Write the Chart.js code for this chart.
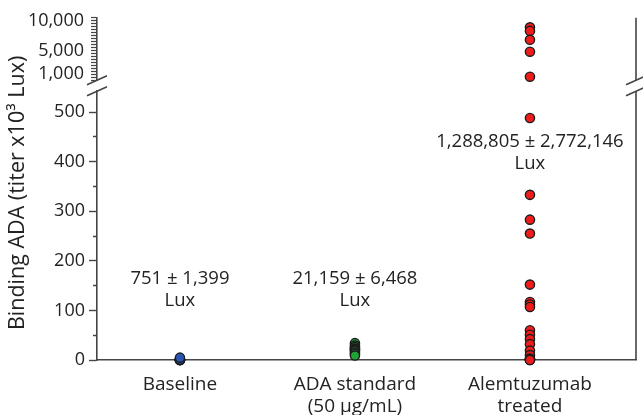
<!DOCTYPE html>
<html>
<head>
<meta charset="utf-8">
<script src="https://cdn.jsdelivr.net/npm/chart.js@4.4.1/dist/chart.umd.min.js"></script>
<style>
  html, body { margin: 0; padding: 0; background: #fff; }
  canvas { display: block; }
</style>
</head>
<body>
<canvas id="chart" width="643" height="415"></canvas>
<script>
// Groups on the x axis (multi-line labels)
const groups = [['Baseline'], ['ADA standard', '(50 µg/mL)'], ['Alemtuzumab', 'treated']];

// Binding ADA, titer x10^3 Lux, one value per sample
const baselineValues = [0.1, 0.1, 0.2, 0.2, 0.3, 0.3, 0.4, 0.5, 0.7, 4.7];
const adaStandardValues = [34, 29, 26, 23, 22, 20, 18, 15, 12, 9];
const alemtuzumabValues = [8900, 8300, 6800, 4800, 600, 488, 333, 283, 255, 152,
                           117, 112, 107, 60, 51, 42, 32, 19, 10, 3, 2, 1, 0, 0];

// Group summaries (mean ± SD)
const statTexts = ['751 ± 1,399', '21,159 ± 6,468', '1,288,805 ± 2,772,146'];
const statUnit = 'Lux';
const statTextAt = [164, 164, 441];

// Broken y axis: lower linear segment and upper segment
const lowerMax = 542;
const lowerTicks = [0, 50, 100, 150, 200, 250, 300, 350, 400, 450, 500];
const upperMax = 10500;
const upperTicks = [0, 500, 1000, 1500, 2000, 2500, 3000, 3500, 4000, 4500, 5000,
                    5500, 6000, 6500, 7000, 7500, 8000, 8500, 9000, 9500, 10000, 10500];
const upperLabelled = [1000, 5000, 10000];

const yTitle = 'Binding ADA (titer x10³ Lux)';

const ink = '#232323';
const axisColor = '#454545';
const fontFamily = '"Open Sans", "Noto Sans", sans-serif';

const toPoints = (vals, xi) => vals.map(v => ({ x: xi, y: v }));

const axisBreak = {
  id: 'axisBreak',
  afterDraw(chart) {
    const { ctx, chartArea: a, scales } = chart;
    const gapTop = scales.yGap.top;
    const gapBottom = scales.yGap.bottom;
    ctx.save();
    ctx.strokeStyle = axisColor;
    ctx.lineWidth = 1.6;
    // right frame, interrupted at the break
    ctx.beginPath();
    ctx.moveTo(a.right, a.top);
    ctx.lineTo(a.right, gapTop);
    ctx.moveTo(a.right, gapBottom);
    ctx.lineTo(a.right, a.bottom);
    ctx.stroke();
    // break slashes on both sides
    [a.left, a.right].forEach(x => {
      [gapTop, gapBottom].forEach(y => {
        ctx.beginPath();
        ctx.moveTo(x - 10, y + 4.5);
        ctx.lineTo(x + 10, y - 4.5);
        ctx.stroke();
      });
    });
    // mean ± SD summaries
    ctx.fillStyle = ink;
    ctx.font = '18.5px ' + fontFamily;
    ctx.textAlign = 'center';
    ctx.textBaseline = 'middle';
    statTexts.forEach((t, i) => {
      const x = scales.x.getPixelForValue(i);
      const y = scales.y.getPixelForValue(statTextAt[i]);
      ctx.fillText(t, x, y);
      ctx.fillText(statUnit, x, y + 22);
    });
    // y axis title, centred on the full plot height
    ctx.font = '21.5px ' + fontFamily;
    ctx.translate(18, (a.top + a.bottom) / 2 + 4);
    ctx.rotate(-Math.PI / 2);
    ctx.fillText(yTitle, 0, 0);
    ctx.restore();
  }
};

function draw() {
  Chart.defaults.font.family = fontFamily;
  Chart.defaults.color = ink;

  const pointStyle = {
    pointRadius: 4.6,
    pointBorderWidth: 1.4,
    pointBorderColor: '#1c1c1c',
    showLine: false,
    clip: false
  };

  new Chart(document.getElementById('chart'), {
    type: 'scatter',
    data: {
      datasets: [
        Object.assign({ data: toPoints(baselineValues, 0), yAxisID: 'y', pointBackgroundColor: '#2a55b5' }, pointStyle),
        Object.assign({ data: toPoints(adaStandardValues, 1), yAxisID: 'y', pointBackgroundColor: '#1fa535' }, pointStyle),
        Object.assign({ data: toPoints(alemtuzumabValues.filter(v => v <= lowerMax), 2), yAxisID: 'y', pointBackgroundColor: '#f01c1c' }, pointStyle),
        Object.assign({ data: toPoints(alemtuzumabValues.filter(v => v > lowerMax), 2), yAxisID: 'yTop', pointBackgroundColor: '#f01c1c' }, pointStyle)
      ]
    },
    options: {
      responsive: false,
      animation: false,
      devicePixelRatio: 1,
      layout: { padding: { left: 27, top: 15, right: 7, bottom: 0 } },
      plugins: { legend: { display: false }, tooltip: { enabled: false } },
      scales: {
        x: {
          type: 'linear',
          position: 'bottom',
          min: -0.474,
          max: 2.606,
          grid: { display: false },
          border: { color: axisColor, width: 1.6 },
          afterBuildTicks: s => { s.ticks = groups.map((g, i) => ({ value: i })); },
          ticks: {
            autoSkip: false,
            maxRotation: 0,
            padding: 6,
            font: { size: 19, lineHeight: 1.15 },
            color: ink,
            callback: v => groups[v]
          },
          afterFit: s => { s.height = 55; }
        },
        yTop: {
          type: 'linear',
          position: 'left',
          stack: 'value',
          stackWeight: 63,
          weight: 3,
          min: 0,
          max: upperMax,
          afterBuildTicks: s => { s.ticks = upperTicks.map(v => ({ value: v })); },
          ticks: {
            autoSkip: false,
            padding: 7,
            font: { size: 18 },
            color: ink,
            callback: v => upperLabelled.includes(v) ? v.toLocaleString('en-US') : ''
          },
          grid: { drawOnChartArea: false, tickLength: 6, tickColor: axisColor, tickWidth: 1.2 },
          border: { color: axisColor, width: 1.6 },
          afterFit: s => { s.width = 70; }
        },
        yGap: {
          type: 'linear',
          position: 'left',
          stack: 'value',
          stackWeight: 11,
          weight: 2,
          ticks: { display: false },
          grid: { display: false, drawTicks: false },
          border: { display: false },
          afterFit: s => { s.width = 70; }
        },
        y: {
          type: 'linear',
          position: 'left',
          stack: 'value',
          stackWeight: 271,
          weight: 1,
          min: 0,
          max: lowerMax,
          afterBuildTicks: s => { s.ticks = lowerTicks.map(v => ({ value: v })); },
          ticks: {
            autoSkip: false,
            padding: 4,
            font: { size: 18 },
            color: ink,
            callback: v => (v % 100 === 0) ? String(v) : ''
          },
          grid: {
            drawOnChartArea: false,
            tickLength: 8,
            tickColor: axisColor,
            tickWidth: 1.4,
            tickBorderDash: c => (c.tick && c.tick.value % 100 !== 0) ? [0, 4, 20] : []
          },
          border: { color: axisColor, width: 1.6 },
          afterFit: s => { s.width = 70; }
        }
      }
    },
    plugins: [axisBreak]
  });
}

if (document.fonts && document.fonts.load) {
  Promise.all([
    document.fonts.load('18px "Open Sans"'),
    document.fonts.load('21px "Open Sans"')
  ]).then(draw, draw);
} else {
  draw();
}
</script>
</body>
</html>
